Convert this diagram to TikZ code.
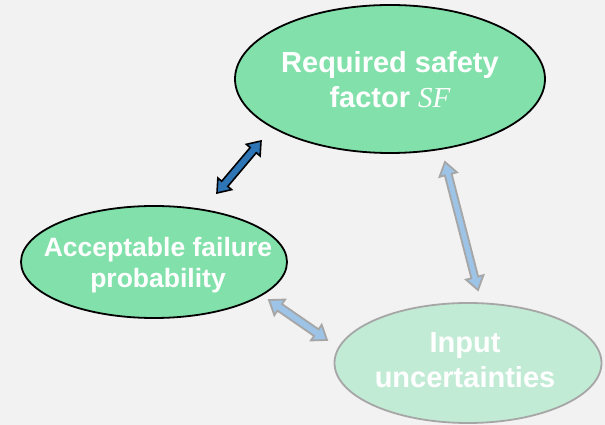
\documentclass[tikz,border=0pt]{standalone}
\usepackage{fontspec}
\setmainfont{Liberation Sans}
\newfontfamily\symbolserif{Liberation Serif}
\usetikzlibrary{shapes.geometric,calc}

\definecolor{canvas}{HTML}{F2F2F2}
\definecolor{mint}{HTML}{82E0AA}
\definecolor{palemint}{HTML}{C2EBD5}
\definecolor{rimgray}{HTML}{A6A6A6}
\definecolor{deepblue}{HTML}{2E75B6}
\definecolor{skyblue}{HTML}{9DC3E6}

% double-headed block arrow: style, from, to, head length, head half-width, shaft half-width
\newcommand\twinarrow[6]{%
  \draw[#1] (#2)
    -- ($(#2)!#4!(#3)!#5!90:(#3)$)
    -- ($(#2)!#4!(#3)!#6!90:(#3)$)
    -- ($(#3)!#4!(#2)!#6!-90:(#2)$)
    -- ($(#3)!#4!(#2)!#5!-90:(#2)$)
    -- (#3)
    -- ($(#3)!#4!(#2)!#5!90:(#2)$)
    -- ($(#3)!#4!(#2)!#6!90:(#2)$)
    -- ($(#2)!#4!(#3)!#6!-90:(#3)$)
    -- ($(#2)!#4!(#3)!#5!-90:(#3)$)
    -- cycle;}

\begin{document}
\begin{tikzpicture}[x=1pt,y=1pt,
  bubble/.style={ellipse, draw=black, line width=1.8pt, fill=mint},
  palebubble/.style={bubble, draw=rimgray, fill=palemint},
  caption/.style={text=white, align=center, inner sep=0pt},
  bigcaption/.style={caption, font={\fontsize{29}{35}\selectfont\bfseries}},
  midcaption/.style={caption, font={\fontsize{26.5}{30.5}\selectfont\bfseries}},
  darkarrow/.style={fill=deepblue, draw=black, line width=1.6pt, miter limit=10},
  lightarrow/.style={fill=skyblue, draw=rimgray, line width=1.8pt, miter limit=10}]

  \fill[canvas] (0,0) rectangle (605,425);
  \useasboundingbox (0,0) rectangle (605,425);

  \node[bubble, minimum width=310pt, minimum height=148pt,
    label={[bigcaption, yshift=-1pt]center:Required safety\\factor {\symbolserif\itshape\mdseries SF}}]
    (sf) at (390,346) {};
  \node[bubble, minimum width=266pt, minimum height=112pt,
    label={[midcaption, xshift=4pt, yshift=-3pt]center:Acceptable failure\\probability}]
    (pf) at (154,163) {};
  \node[palebubble, minimum width=267pt, minimum height=120pt,
    label={[bigcaption, xshift=-3pt, yshift=3pt]center:Input\\uncertainties}]
    (iu) at (468,62) {};

  \coordinate (d1) at (217,232);
  \coordinate (d2) at (261,284);
  \coordinate (r1) at (445,263);
  \coordinate (r2) at (478,135);
  \coordinate (b1) at (269,125);
  \coordinate (b2) at (327,85);

  \twinarrow{darkarrow}{d1}{d2}{12pt}{9pt}{4pt}
  \twinarrow{lightarrow}{r1}{r2}{13pt}{9pt}{3.5pt}
  \twinarrow{lightarrow}{b1}{b2}{13pt}{9.5pt}{4pt}
\end{tikzpicture}
\end{document}
